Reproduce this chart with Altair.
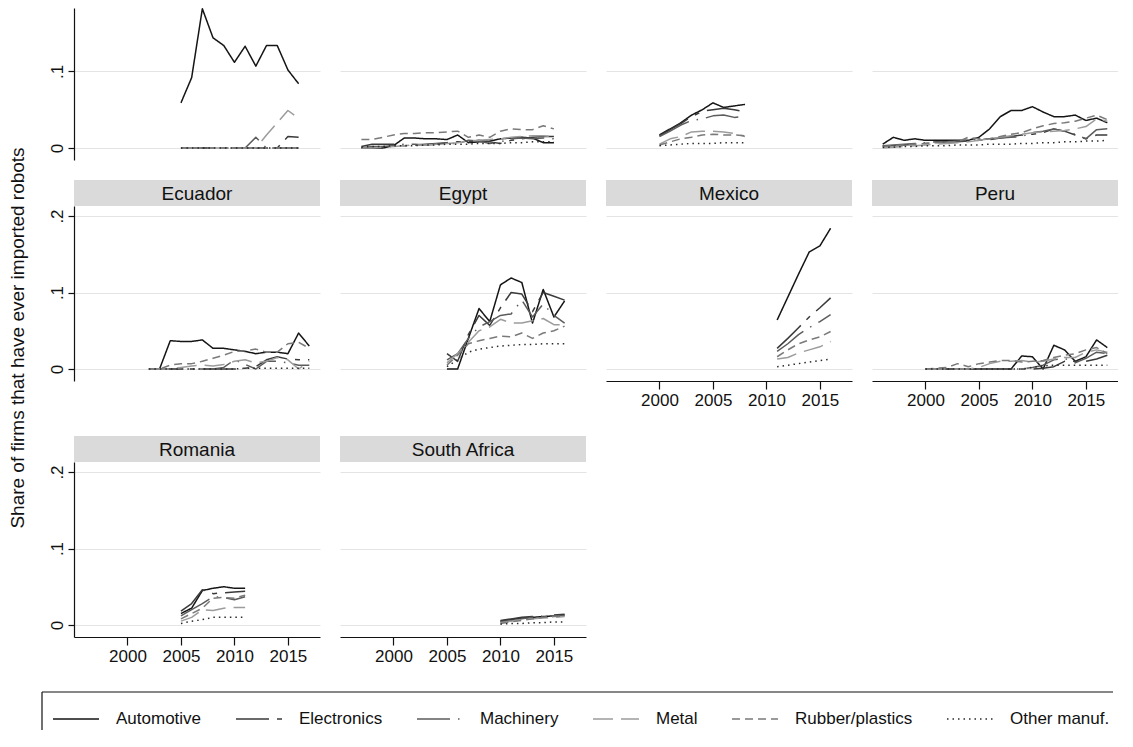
import altair as alt
import pandas as pd

FONT = "Liberation Sans"

sectors = ["Automotive", "Electronics", "Machinery", "Metal", "Rubber/plastics", "Other manuf."]
sector_colors = ["#151515", "#3a3a3a", "#5c5c5c", "#9c9c9c", "#7a7a7a", "#2a2a2a"]
sector_dashes = [[1, 0], [33, 8, 5, 8], [33, 8, 1.5, 8], [20, 8], [8, 5], [1.5, 4]]

x_ticks = [2000, 2005, 2010, 2015]
y_title = "Share of firms that have ever imported robots"

# ---- panel titles (top row titles are cut off in the source image) ----
grid_rows = [
    ["Country A", "Country B", "Country C", "Country D"],
    ["Ecuador", "Egypt", "Mexico", "Peru"],
    ["Romania", "South Africa"],
]
bottom_panels = ["Mexico", "Peru", "Romania", "South Africa"]

# ---- data: years and share per sector ----
a_years = list(range(2005, 2017))
a_vals = {
    "Automotive": [0.059, 0.092, 0.182, 0.144, 0.134, 0.112, 0.133, 0.107, 0.134, 0.134, 0.102, 0.084],
    "Electronics": [0, 0, 0, 0, 0, 0, 0, 0, 0, 0, 0.015, 0.014],
    "Machinery": [0, 0, 0, 0, 0, 0, 0, 0.014, 0, 0, 0, 0],
    "Metal": [0, 0, 0, 0, 0, 0, 0, 0, 0.017, 0.033, 0.049, 0.039],
    "Rubber/plastics": [0, 0, 0, 0, 0, 0, 0, 0, 0, 0, 0, 0],
    "Other manuf.": [0, 0, 0, 0, 0, 0, 0, 0, 0, 0, 0, 0],
}

b_years = list(range(1997, 2016))
b_vals = {
    "Automotive": [0, 0, 0, 0.003, 0.013, 0.013, 0.012, 0.012, 0.011, 0.017, 0.007, 0.008, 0.009, 0.012, 0.013, 0.014, 0.013, 0.007, 0.007],
    "Electronics": [0.002, 0.005, 0.005, 0.005, 0.003, 0.004, 0.005, 0.006, 0.007, 0.008, 0.008, 0.010, 0.008, 0.006, 0.010, 0.012, 0.014, 0.015, 0.015],
    "Machinery": [0, 0.002, 0.002, 0.003, 0.005, 0.005, 0.004, 0.005, 0.006, 0.006, 0.010, 0.009, 0.006, 0.008, 0.012, 0.013, 0.012, 0.013, 0.012],
    "Metal": [0, 0, 0.001, 0.002, 0.003, 0.004, 0.004, 0.005, 0.006, 0.007, 0.009, 0.010, 0.011, 0.012, 0.014, 0.015, 0.016, 0.016, 0.015],
    "Rubber/plastics": [0.011, 0.011, 0.014, 0.017, 0.019, 0.019, 0.020, 0.020, 0.021, 0.022, 0.014, 0.017, 0.014, 0.022, 0.025, 0.024, 0.024, 0.029, 0.025],
    "Other manuf.": [0.001, 0.002, 0.002, 0.003, 0.003, 0.003, 0.004, 0.004, 0.005, 0.005, 0.005, 0.006, 0.006, 0.006, 0.007, 0.007, 0.008, 0.008, 0.008],
}

c_years = list(range(2000, 2009))
c_vals = {
    "Automotive": [0.017, 0.025, 0.033, 0.043, 0.050, 0.059, 0.053, 0.055, 0.057],
    "Electronics": [0.016, 0.024, 0.032, 0.041, 0.048, 0.050, 0.052, 0.050, 0.047],
    "Machinery": [0.015, 0.022, 0.030, 0.036, 0.038, 0.042, 0.043, 0.040, 0.041],
    "Metal": [0.005, 0.012, 0.015, 0.021, 0.022, 0.022, 0.021, 0.019, 0.015],
    "Rubber/plastics": [0.004, 0.008, 0.012, 0.014, 0.017, 0.018, 0.017, 0.017, 0.016],
    "Other manuf.": [0.003, 0.004, 0.005, 0.006, 0.006, 0.006, 0.007, 0.007, 0.007],
}

d_years = list(range(1996, 2018))
d_vals = {
    "Automotive": [0.005, 0.014, 0.010, 0.012, 0.010, 0.010, 0.010, 0.010, 0.010, 0.014, 0.025, 0.041, 0.049, 0.049, 0.054, 0.047, 0.041, 0.041, 0.043, 0.036, 0.039, 0.033],
    "Electronics": [0.003, 0.003, 0.004, 0.005, 0.006, 0.007, 0.008, 0.008, 0.009, 0.010, 0.011, 0.013, 0.015, 0.017, 0.018, 0.020, 0.025, 0.022, 0.017, 0.012, 0.017, 0.017],
    "Machinery": [0.003, 0.004, 0.005, 0.006, 0.007, 0.008, 0.008, 0.009, 0.010, 0.011, 0.012, 0.013, 0.014, 0.015, 0.020, 0.022, 0.025, 0.022, 0.018, 0.012, 0.024, 0.025],
    "Metal": [0, 0.001, 0.002, 0.003, 0.004, 0.005, 0.006, 0.007, 0.008, 0.010, 0.012, 0.014, 0.016, 0.018, 0.020, 0.021, 0.022, 0.023, 0.025, 0.028, 0.038, 0.035],
    "Rubber/plastics": [0.002, 0.003, 0.004, 0.005, 0.006, 0.007, 0.008, 0.008, 0.014, 0.012, 0.012, 0.015, 0.018, 0.020, 0.025, 0.029, 0.032, 0.033, 0.035, 0.039, 0.043, 0.037],
    "Other manuf.": [0.001, 0.001, 0.002, 0.002, 0.003, 0.003, 0.003, 0.004, 0.004, 0.004, 0.005, 0.005, 0.005, 0.006, 0.006, 0.007, 0.007, 0.008, 0.008, 0.009, 0.009, 0.010],
}

ecuador_years = list(range(2002, 2018))
ecuador_vals = {
    "Automotive": [0, 0, 0.037, 0.036, 0.036, 0.038, 0.027, 0.027, 0.025, 0.023, 0.020, 0.022, 0.022, 0.020, 0.047, 0.030],
    "Electronics": [0, 0, 0, 0, 0, 0, 0, 0, 0, 0.001, 0.003, 0.012, 0.016, 0.013, 0.012, 0.012],
    "Machinery": [0, 0, 0, 0, 0, 0, 0, 0.002, 0.012, 0.006, 0, 0.010, 0.010, 0.008, 0.005, 0.005],
    "Metal": [0, 0, 0, 0.002, 0.004, 0.005, 0.004, 0.006, 0.010, 0.012, 0.008, 0.010, 0.015, 0.012, 0, 0.010],
    "Rubber/plastics": [0, 0, 0.005, 0.007, 0.007, 0.010, 0.014, 0.018, 0.023, 0.024, 0.026, 0.022, 0.022, 0.033, 0.035, 0.027],
    "Other manuf.": [0, 0, 0, 0, 0, 0, 0, 0, 0, 0.001, 0.001, 0.001, 0.001, 0.001, 0.001, 0.001],
}

egypt_years = list(range(2005, 2017))
egypt_vals = {
    "Automotive": [0, 0, 0.040, 0.079, 0.062, 0.110, 0.119, 0.113, 0.060, 0.104, 0.068, 0.089],
    "Electronics": [0.020, 0.010, 0.045, 0.070, 0.057, 0.080, 0.100, 0.098, 0.075, 0.100, 0.095, 0.090],
    "Machinery": [0.012, 0.020, 0.040, 0.055, 0.062, 0.070, 0.072, 0.090, 0.068, 0.085, 0.070, 0.060],
    "Metal": [0.008, 0.020, 0.035, 0.050, 0.055, 0.065, 0.060, 0.060, 0.063, 0.066, 0.058, 0.058],
    "Rubber/plastics": [0.005, 0.018, 0.033, 0.037, 0.040, 0.043, 0.042, 0.047, 0.040, 0.047, 0.050, 0.056],
    "Other manuf.": [0.003, 0.012, 0.022, 0.026, 0.028, 0.030, 0.031, 0.032, 0.032, 0.033, 0.033, 0.033],
}

mexico_years = list(range(2011, 2017))
mexico_vals = {
    "Automotive": [0.064, 0.094, 0.124, 0.153, 0.161, 0.184],
    "Electronics": [0.027, 0.040, 0.054, 0.068, 0.080, 0.093],
    "Machinery": [0.023, 0.033, 0.045, 0.054, 0.062, 0.071],
    "Metal": [0.013, 0.015, 0.021, 0.025, 0.029, 0.036],
    "Rubber/plastics": [0.016, 0.025, 0.033, 0.038, 0.042, 0.049],
    "Other manuf.": [0.003, 0.005, 0.007, 0.009, 0.011, 0.013],
}

peru_years = list(range(2000, 2018))
peru_vals = {
    "Automotive": [0, 0, 0, 0, 0, 0, 0, 0, 0, 0.017, 0.016, 0, 0.031, 0.025, 0.010, 0.016, 0.038, 0.028],
    "Electronics": [0, 0, 0, 0, 0, 0, 0, 0, 0, 0, 0, 0.001, 0.003, 0.010, 0.010, 0.010, 0.013, 0.018],
    "Machinery": [0, 0, 0, 0, 0, 0, 0, 0, 0, 0, 0.002, 0.005, 0.012, 0.014, 0.008, 0.014, 0.022, 0.020],
    "Metal": [0, 0, 0, 0, 0, 0.002, 0.007, 0.010, 0.010, 0.011, 0.009, 0.010, 0.013, 0.015, 0.015, 0.022, 0.025, 0.022],
    "Rubber/plastics": [0, 0.001, 0.002, 0.007, 0.003, 0.007, 0.009, 0.011, 0.011, 0.009, 0.010, 0.011, 0.015, 0.018, 0.020, 0.025, 0.028, 0.020],
    "Other manuf.": [0, 0, 0, 0, 0, 0, 0, 0, 0, 0, 0.002, 0.004, 0.005, 0.005, 0.005, 0.005, 0.005, 0.005],
}

romania_years = list(range(2005, 2012))
romania_vals = {
    "Automotive": [0.015, 0.022, 0.045, 0.048, 0.050, 0.048, 0.048],
    "Electronics": [0.018, 0.028, 0.046, 0.041, 0.042, 0.043, 0.044],
    "Machinery": [0.012, 0.020, 0.028, 0.037, 0.036, 0.033, 0.037],
    "Metal": [0.005, 0.010, 0.020, 0.019, 0.022, 0.023, 0.023],
    "Rubber/plastics": [0.008, 0.015, 0.022, 0.035, 0.036, 0.035, 0.039],
    "Other manuf.": [0.002, 0.005, 0.007, 0.010, 0.010, 0.010, 0.010],
}

south_africa_years = list(range(2010, 2017))
south_africa_vals = {
    "Automotive": [0.005, 0.007, 0.009, 0.010, 0.011, 0.012, 0.013],
    "Electronics": [0.006, 0.008, 0.010, 0.011, 0.010, 0.013, 0.014],
    "Machinery": [0.004, 0.006, 0.008, 0.010, 0.012, 0.012, 0.012],
    "Metal": [0.003, 0.005, 0.007, 0.008, 0.009, 0.010, 0.011],
    "Rubber/plastics": [0.002, 0.004, 0.006, 0.008, 0.010, 0.011, 0.012],
    "Other manuf.": [0.001, 0.002, 0.002, 0.003, 0.003, 0.004, 0.004],
}

country_data = {
    "Country A": (a_years, a_vals),
    "Country B": (b_years, b_vals),
    "Country C": (c_years, c_vals),
    "Country D": (d_years, d_vals),
    "Ecuador": (ecuador_years, ecuador_vals),
    "Egypt": (egypt_years, egypt_vals),
    "Mexico": (mexico_years, mexico_vals),
    "Peru": (peru_years, peru_vals),
    "Romania": (romania_years, romania_vals),
    "South Africa": (south_africa_years, south_africa_vals),
}

records = []
for cname, (yrs, vals) in country_data.items():
    for s in sectors:
        for yr, v in zip(yrs, vals[s]):
            records.append({"country": cname, "year": yr, "sector": s, "value": v})
df = pd.DataFrame(records)

# ---- layout constants ----
PW = 246
PH = 175
PH_TOP = 152
HEAD_H = 26
YDOM = [-0.0157, 0.2131]
YDOM_TOP = [-0.0157, 0.183]
INK = "#111111"

legend_spec = alt.Legend(
    orient="none", legendX=44, legendY=687, direction="horizontal", columns=6,
    gridAlign="each", columnPadding=30, title=None, symbolType="stroke",
    symbolSize=2116, symbolStrokeWidth=1.6, labelOffset=16, labelFontSize=17,
    labelFont=FONT, labelColor=INK, padding=0, labelLimit=300,
)

label_expr = "datum.value == 0 ? '0' : replace(format(datum.value, '.1f'), '0.', '.')"


def panel(cname, row, col):
    top = row == 0
    first = col == 0
    bottom = cname in bottom_panels
    height = PH_TOP if top else PH
    yaxis = alt.Axis(
        values=[0, 0.1] if top else [0, 0.1, 0.2], grid=True, gridColor="#e4e4e4", gridWidth=1,
        domain=first, ticks=first, labels=first, labelExpr=label_expr,
        labelAngle=270, labelAlign="center", labelBaseline="bottom",
        labelFontSize=17, labelFont=FONT, labelColor=INK,
        tickSize=6, labelPadding=2, domainColor=INK, tickColor=INK,
        domainWidth=1.2, tickWidth=1.2, title=None,
    )
    if bottom:
        xaxis = alt.Axis(
            values=x_ticks, format="d", grid=False, title=None, labelFontSize=17,
            labelFont=FONT, labelColor=INK, tickSize=8, labelPadding=3,
            domainColor=INK, tickColor=INK, domainWidth=1.2, tickWidth=1.2,
            labelOverlap=False, labelFlush=False,
        )
    else:
        xaxis = None
    d = df[df["country"] == cname]
    lines = alt.Chart(d).mark_line(strokeWidth=1.5, strokeJoin="round").encode(
        x=alt.X("year:Q", scale=alt.Scale(domain=[1995, 2018], nice=False, zero=False), axis=xaxis),
        y=alt.Y("value:Q", scale=alt.Scale(domain=YDOM_TOP if top else YDOM, nice=False, zero=False), axis=yaxis),
        color=alt.Color("sector:N", scale=alt.Scale(domain=sectors, range=sector_colors), legend=legend_spec),
        strokeDash=alt.StrokeDash("sector:N", scale=alt.Scale(domain=sectors, range=sector_dashes), legend=legend_spec),
        order=alt.Order("year:Q"),
    )
    if top:
        return lines.properties(width=PW, height=height)
    base = alt.Chart(pd.DataFrame({"name": [cname]}))
    rect = base.mark_rect(color="#dadada").encode(
        x=alt.value(0), x2=alt.value(PW), y=alt.value(-HEAD_H), y2=alt.value(0)
    )
    txt = base.mark_text(fontSize=19, font=FONT, color=INK, baseline="middle", align="center").encode(
        x=alt.value(PW / 2), y=alt.value(-HEAD_H / 2 + 1), text="name:N"
    )
    return alt.layer(lines, rect, txt).properties(width=PW, height=height)


rows = [alt.hconcat(*[panel(n, r, c) for c, n in enumerate(names)], spacing=20) for r, names in enumerate(grid_rows)]

grid = alt.vconcat(alt.vconcat(rows[0], rows[1], spacing=20), rows[2], spacing=28)

title_chart = alt.Chart(pd.DataFrame({"t": [y_title]})).mark_text(
    angle=270, fontSize=19, font=FONT, color=INK, align="center", baseline="middle"
).encode(x=alt.value(10), y=alt.value(330), text="t:N").properties(width=20, height=640)

# legend frame (its right and bottom ends are cut off in the source image)
fb = alt.Chart(pd.DataFrame({"k": [0]}))
frame = alt.layer(
    fb.mark_rule(color=INK, strokeWidth=1.2).encode(x=alt.value(34), x2=alt.value(1105), y=alt.value(0)),
    fb.mark_rule(color=INK, strokeWidth=1.2).encode(x=alt.value(34), y=alt.value(0), y2=alt.value(38)),
).properties(width=1090, height=38)

chart = (
    alt.vconcat(alt.hconcat(title_chart, grid, spacing=19), frame, spacing=27)
    .resolve_scale(color="shared", strokeDash="shared")
    .configure(font=FONT)
    .configure_view(stroke=None)
    .properties(padding=0)
)

chart.save("out.html", embed_options={"renderer": "svg", "actions": False})
